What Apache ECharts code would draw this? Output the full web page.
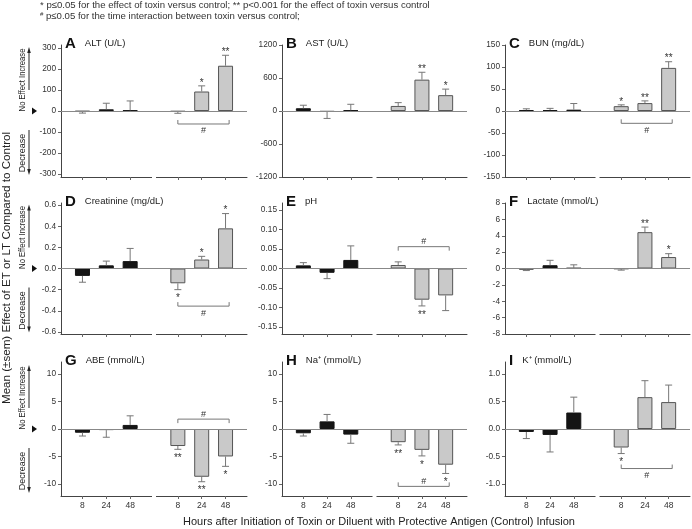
<!DOCTYPE html>
<html><head><meta charset="utf-8">
<script src="https://cdn.jsdelivr.net/npm/echarts@6/dist/echarts.min.js"></script>
<style>html,body{margin:0;padding:0;background:#fff}#c{width:692px;height:529px}</style>
</head><body><div id="c"></div>
<script>
// ---------- data ----------
const hours = ['8', '24', '48'];
const slots = [0, 1, 2, 4, 5, 6]; // 3 control slots, gap, 3 toxin slots
const letters = ['A','B','C','D','E','F','G','H','I'];
const names = ['ALT (U/L)','AST (U/L)','BUN (mg/dL)','Creatinine (mg/dL)','pH','Lactate (mmol/L)','ABE (mmol/L)','Na\u207A (mmol/L)','K\u207A (mmol/L)'];

// first three = control (diluent + PA), last three = toxin; mean and sem
const altMean = [-3, 8, 3, -3, 93, 216];           const altSem = [7, 29, 45, 8, 27, 50];
const astMean = [50, -15, 12, 92, 570, 288];       const astSem = [55, 120, 110, 60, 134, 110];
const bunMean = [2, 2, 3, 11, 18, 98];             const bunSem = [3, 4, 14, 3, 5, 14];
const creMean = [-0.07, 0.03, 0.07, -0.14, 0.085, 0.38]; const creSem = [0.06, 0.04, 0.12, 0.06, 0.03, 0.14];
const phMean = [0.008, -0.011, 0.022, 0.009, -0.08, -0.069]; const phSem = [0.007, 0.015, 0.036, 0.008, 0.016, 0.039];
const lacMean = [-0.1, 0.4, 0.05, -0.05, 4.44, 1.4]; const lacSem = [0.15, 0.6, 0.4, 0.15, 0.62, 0.41];
const abeMean = [-0.68, -0.2, 0.74, -3.1, -8.7, -5.0]; const abeSem = [0.6, 1.3, 1.66, 0.6, 0.9, 1.8];
const naMean = [-0.78, 1.39, -1.02, -2.4, -3.8, -6.5]; const naSem = [0.5, 1.26, 1.58, 0.5, 1.1, 1.6];
const kMean = [-0.054, -0.108, 0.30, -0.337, 0.58, 0.49]; const kSem = [0.12, 0.31, 0.28, 0.11, 0.30, 0.31];

const altStars = ['','','','','*','**'];
const astStars = ['','','','','**','*'];
const bunStars = ['','','','*','**','**'];
const creStars = ['','','','*','*','*'];
const phStars  = ['','','','','**',''];
const lacStars = ['','','','','**','*'];
const abeStars = ['','','','**','**','*'];
const naStars  = ['','','','**','*','*'];
const kStars   = ['','','','*','',''];

const altTicks = [-300,-200,-100,0,100,200,300];
const astTicks = [-1200,-600,0,600,1200];
const bunTicks = [-150,-100,-50,0,50,100,150];
const creTicks = [-0.6,-0.4,-0.2,0,0.2,0.4,0.6];
const phTicks  = [-0.15,-0.10,-0.05,0,0.05,0.10,0.15];
const lacTicks = [-8,-6,-4,-2,0,2,4,6,8];
const abeTicks = [-10,-5,0,5,10];
const naTicks  = [-10,-5,0,5,10];
const kTicks   = [-1.0,-0.5,0,0.5,1.0];

const yRange = [315, 1200, 150, 0.62, 0.168, 8, 12.2, 12.2, 1.22];
const decimals = [0,0,0,1,2,0,0,0,1];
// time-interaction bracket (# p<=0.05): y level in data units, null = none
const bracketY = [-62, null, -28, -0.356, 0.056, null, 1.8, -10.45, -0.72];
const hashSide = ['below', null, 'below', 'below', 'above', null, 'above', 'above', 'below'];
const bracketTickDir = [1, 0, 1, 1, -1, 0, -1, 1, 1]; // 1: ends point up, -1: down

const means = [altMean, astMean, bunMean, creMean, phMean, lacMean, abeMean, naMean, kMean];
const sems = [altSem, astSem, bunSem, creSem, phSem, lacSem, abeSem, naSem, kSem];
const stars = [altStars, astStars, bunStars, creStars, phStars, lacStars, abeStars, naStars, kStars];
const ticks = [altTicks, astTicks, bunTicks, creTicks, phTicks, lacTicks, abeTicks, naTicks, kTicks];

// ---------- layout ----------
const FONT = 'Liberation Sans, Arial, Helvetica, sans-serif';
const colLeft = [61, 282, 505], colWidth = [186, 185, 185];
const rowTop = [45, 203, 362], rowHeight = [132, 131, 134];
const XMIN = -0.9, XMAX = 6.9;

const grids = [], xAxes = [], yAxes = [], series = [], graphics = [];

for (let i = 0; i < 9; i++) {
  const r = Math.floor(i / 3), c = i % 3;
  grids.push({left: colLeft[c], top: rowTop[r], width: colWidth[c], height: rowHeight[r]});
  xAxes.push({
    gridIndex: i, type: 'value', min: XMIN, max: XMAX,
    axisLine: {show: true, onZero: false, lineStyle: {color: '#444', width: 1}},
    axisTick: {show: true, customValues: slots, length: 3, lineStyle: {color: '#666'}},
    axisLabel: {show: r === 2, customValues: slots, margin: 5, fontSize: 8.5, color: '#333', fontFamily: FONT,
      formatter: v => hours[v < 3 ? v : v - 4]},
    splitLine: {show: false}
  });
  const dec = decimals[i];
  yAxes.push({
    gridIndex: i, type: 'value', min: -yRange[i], max: yRange[i],
    axisLine: {show: true, onZero: false, lineStyle: {color: '#444', width: 1}},
    axisTick: {show: true, customValues: ticks[i], length: 3, lineStyle: {color: '#666'}},
    axisLabel: {customValues: ticks[i], margin: 5, fontSize: 8.3, color: '#333', fontFamily: FONT,
      formatter: v => Number(v).toFixed(dec)},
    splitLine: {show: false}
  });
  const m = means[i], s = sems[i], st = stars[i];
  series.push({
    type: 'bar', xAxisIndex: i, yAxisIndex: i, barWidth: 15, z: 2,
    data: m.map((v, k) => ({
      value: [slots[k], v],
      itemStyle: k < 3 ? {color: '#141414', borderColor: '#141414', borderWidth: 1}
                       : {color: '#c9c9c9', borderColor: '#555', borderWidth: 1}
    })),
    markLine: {silent: true, symbol: 'none', label: {show: false},
      lineStyle: {color: '#888', width: 1, type: 'solid'}, data: [{yAxis: 0}]}
  });
  series.push({
    type: 'custom', xAxisIndex: i, yAxisIndex: i, z: 3, clip: false,
    encode: {x: 0, y: 1},
    data: m.map((v, k) => [slots[k], v, s[k]]),
    renderItem: (p, api) => {
      const x = api.value(0), y = api.value(1), e = api.value(2);
      const sg = y < 0 ? -1 : 1;
      const a = api.coord([x, y]), b = api.coord([x, y + sg * e]);
      const ch = [
        {type: 'line', shape: {x1: a[0], y1: a[1], x2: b[0], y2: b[1]}, style: {stroke: '#777', lineWidth: 1}},
        {type: 'line', shape: {x1: b[0] - 3.5, y1: b[1], x2: b[0] + 3.5, y2: b[1]}, style: {stroke: '#777', lineWidth: 1}}
      ];
      const star = st[p.dataIndex];
      if (star) ch.push({type: 'text', x: b[0], y: b[1] + (sg > 0 ? -3 : 9),
        style: {text: star, align: 'center', verticalAlign: 'middle', fontSize: 10, fill: '#333', fontFamily: FONT}});
      return {type: 'group', children: ch};
    }
  });
  // small break in the x axis line at the empty slot
  series.push({
    type: 'custom', xAxisIndex: i, yAxisIndex: i, z: 10, clip: false, silent: true,
    data: [[3, -yRange[i]]],
    renderItem: (p, api) => {
      const a = api.coord([api.value(0), api.value(1)]);
      return {type: 'rect', shape: {x: a[0] - 2, y: a[1] - 1.5, width: 4, height: 3}, style: {fill: '#fff'}};
    }
  });
  if (bracketY[i] !== null) {
    const side = hashSide[i], dir = bracketTickDir[i];
    series.push({
      type: 'custom', xAxisIndex: i, yAxisIndex: i, z: 4, clip: false, silent: true,
      data: [[4, 6.15, bracketY[i]]],
      renderItem: (p, api) => {
        const a = api.coord([api.value(0), api.value(2)]), b = api.coord([api.value(1), api.value(2)]);
        const t = -dir * 4;
        return {type: 'group', children: [
          {type: 'polyline', shape: {points: [[a[0], a[1] + t], [a[0], a[1]], [b[0], b[1]], [b[0], b[1] + t]]},
            style: {stroke: '#777', lineWidth: 1, fill: null}},
          {type: 'text', x: (a[0] + b[0]) / 2, y: a[1] + (side === 'below' ? 7 : -5),
            style: {text: '#', align: 'center', verticalAlign: 'middle', fontSize: 9, fill: '#333', fontFamily: FONT}}
        ]};
      }
    });
  }
  // panel letter + name
  graphics.push({type: 'text', left: colLeft[c] + 4, top: rowTop[r] - 9,
    style: {text: '{l|' + letters[i] + '}{s| }{n|' + names[i] + '}',
      rich: {
        l: {fontSize: 15, fontWeight: 'bold', fill: '#111', fontFamily: FONT, verticalAlign: 'middle'},
        s: {fontSize: 9, width: 9, verticalAlign: 'middle'},
        n: {fontSize: 9.5, fill: '#222', fontFamily: FONT, verticalAlign: 'middle'}
      }}});
}

// side decorations per row (Increase / No Effect / Decrease arrows)
for (let r = 0; r < 3; r++) {
  const z = rowTop[r] + rowHeight[r] / 2;
  const lc = '#222';
  graphics.push(
    {type: 'line', shape: {x1: 29, y1: z - 60, x2: 29, y2: z - 21}, style: {stroke: lc, lineWidth: 1}},
    {type: 'polygon', shape: {points: [[29, z - 64], [27.2, z - 58], [30.8, z - 58]]}, style: {fill: lc}},
    {type: 'line', shape: {x1: 29, y1: z + 19, x2: 29, y2: z + 60}, style: {stroke: lc, lineWidth: 1}},
    {type: 'polygon', shape: {points: [[29, z + 64], [27.2, z + 58], [30.8, z + 58]]}, style: {fill: lc}},
    {type: 'polygon', shape: {points: [[32, z - 3.5], [32, z + 3.5], [37, z]]}, style: {fill: '#111'}},
    {type: 'text', x: 23, y: z - 31, rotation: Math.PI / 2, scaleX: 0.85,
      style: {text: 'No Effect Increase', align: 'center', verticalAlign: 'middle', fontSize: 9, fill: '#222', fontFamily: FONT}},
    {type: 'text', x: 23, y: z + 42, rotation: Math.PI / 2,
      style: {text: 'Decrease', align: 'center', verticalAlign: 'middle', fontSize: 9, fill: '#222', fontFamily: FONT}}
  );
}

// titles and notes
graphics.push(
  {type: 'text', x: 7, y: 268, rotation: Math.PI / 2,
    style: {text: 'Mean (\u00B1sem) Effect of ET or LT Compared to Control', align: 'center', verticalAlign: 'middle', fontSize: 11.6, fill: '#222', fontFamily: FONT}},
  {type: 'text', x: 379, y: 522,
    style: {text: 'Hours after Initiation of Toxin or Diluent with Protective Antigen (Control) Infusion', align: 'center', verticalAlign: 'middle', fontSize: 11, fill: '#222', fontFamily: FONT}},
  {type: 'text', x: 40, y: 5,
    style: {text: '* p\u22640.05 for the effect of toxin versus control; ** p<0.001 for the effect of toxin versus control', align: 'left', verticalAlign: 'middle', fontSize: 9.6, fill: '#333', fontFamily: FONT}},
  {type: 'text', x: 40, y: 16,
    style: {text: '{sup|#} p\u22640.05 for the time interaction between toxin versus control;', align: 'left', verticalAlign: 'middle', fontSize: 9.6, fill: '#333', fontFamily: FONT,
      rich: {sup: {fontSize: 6, verticalAlign: 'top', fill: '#333', fontFamily: FONT}}}}
);

const chart = echarts.init(document.getElementById('c'), null, {renderer: 'canvas'});
chart.setOption({
  animation: false,
  backgroundColor: '#fff',
  textStyle: {fontFamily: FONT},
  grid: grids, xAxis: xAxes, yAxis: yAxes, series: series, graphic: graphics
});
</script></body></html>
